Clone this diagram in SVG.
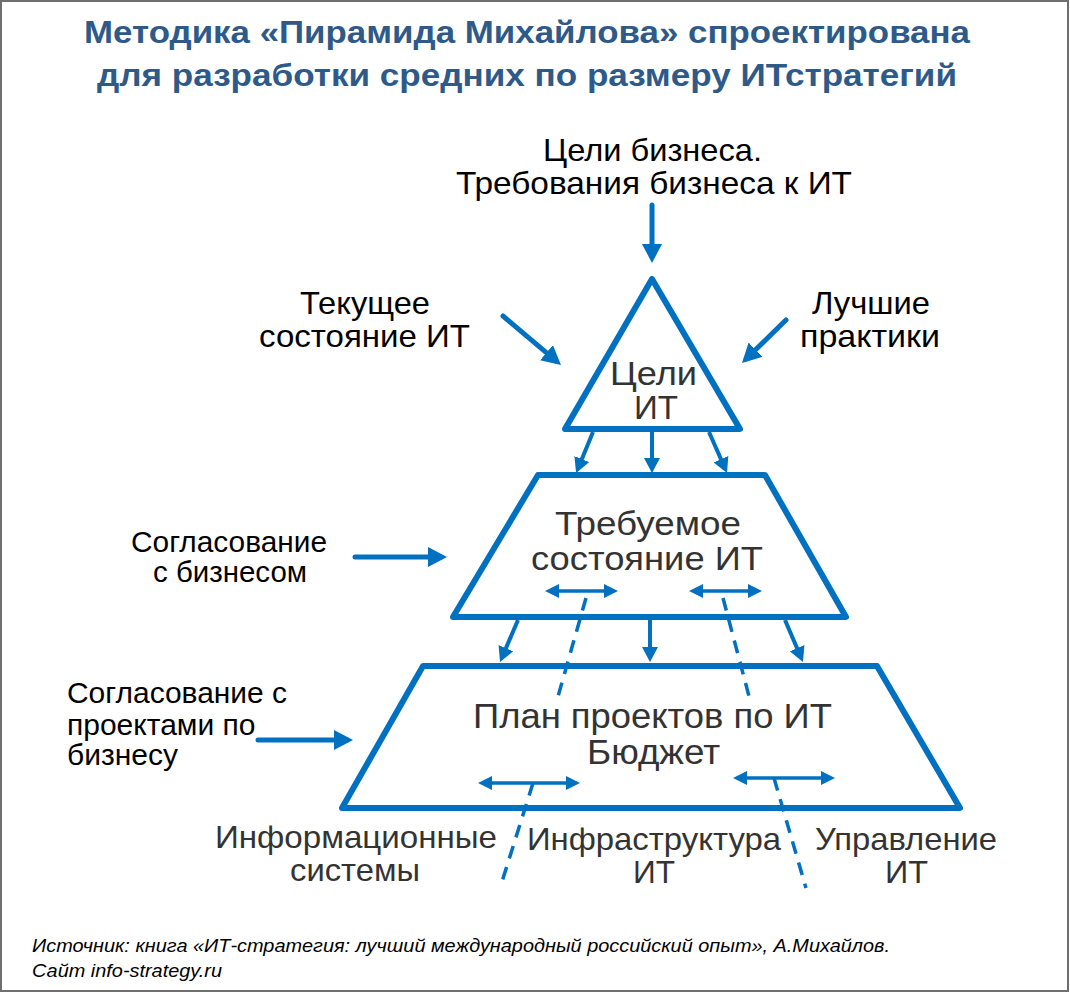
<svg xmlns="http://www.w3.org/2000/svg" width="1070" height="994" viewBox="0 0 1070 994">
<defs>
<style>
.shape{fill:#fff;stroke:#0070C0;stroke-width:6;stroke-linejoin:round}
.arr{stroke:#0070C0;stroke-width:5;fill:none;stroke-linecap:round}
.arm{stroke:#0070C0;stroke-width:4;fill:none}
.ars{stroke:#0070C0;stroke-width:3.5;fill:none}
.dash{stroke:#0070C0;stroke-width:3.5;fill:none;stroke-dasharray:13 9}
.t{font-family:"Liberation Sans",Arial,sans-serif;fill:#000}
.d{font-family:"Liberation Sans",Arial,sans-serif;fill:#333}
.title{font-family:"Liberation Sans",Arial,sans-serif;font-weight:bold;fill:#2E5A8A;font-size:32px}
.foot{font-family:"Liberation Sans",Arial,sans-serif;font-style:italic;fill:#000;font-size:19px}
</style>
<marker id="mb" markerUnits="userSpaceOnUse" markerWidth="19" markerHeight="20" refX="13" refY="10" orient="auto"><path d="M0,0 L19,10 L0,20 Z" fill="#0070C0"/></marker>
<marker id="mm" markerUnits="userSpaceOnUse" markerWidth="15" markerHeight="16" refX="10" refY="8" orient="auto"><path d="M0,0 L15,8 L0,16 Z" fill="#0070C0"/></marker>
<marker id="ms" markerUnits="userSpaceOnUse" markerWidth="14" markerHeight="14" refX="9" refY="7" orient="auto-start-reverse"><path d="M0,0 L14,7 L0,14 Z" fill="#0070C0"/></marker>
</defs>
<rect x="1" y="1" width="1067" height="990" fill="#fff" stroke="#6f6f6f" stroke-width="2"/>
<g id="title">
<text class="title" x="84" y="43" textLength="886" lengthAdjust="spacingAndGlyphs">Методика «Пирамида Михайлова» спроектирована</text>
<text class="title" x="97" y="86" textLength="860" lengthAdjust="spacingAndGlyphs">для разработки средних по размеру ИТстратегий</text>
</g>
<g id="node-goals-it">
<polygon class="shape" points="652,279 740,429 565,429"/>
<text class="d" font-size="33" x="610" y="385" textLength="87" lengthAdjust="spacingAndGlyphs">Цели</text>
<text class="d" font-size="33" x="634" y="419" textLength="44" lengthAdjust="spacingAndGlyphs">ИТ</text>
</g>
<g id="node-required-state">
<polygon class="shape" points="538,475 765,475 846,617 453,617"/>
<text class="d" font-size="34" x="555" y="535" textLength="186" lengthAdjust="spacingAndGlyphs">Требуемое</text>
<text class="d" font-size="34" x="531" y="570" textLength="232" lengthAdjust="spacingAndGlyphs">состояние ИТ</text>
</g>
<g id="node-plan">
<polygon class="shape" points="423,666 877,666 960,808 342,808"/>
<text class="d" font-size="35" x="473" y="728" textLength="359" lengthAdjust="spacingAndGlyphs">План проектов по ИТ</text>
<text class="d" font-size="35" x="587" y="764" textLength="133" lengthAdjust="spacingAndGlyphs">Бюджет</text>
</g>
<g id="label-business-goals">
<text class="t" font-size="32" x="543" y="161" textLength="219" lengthAdjust="spacingAndGlyphs">Цели бизнеса.</text>
<text class="t" font-size="32" x="456" y="194" textLength="396" lengthAdjust="spacingAndGlyphs">Требования бизнеса к ИТ</text>
</g>
<g id="label-current-state">
<text class="t" font-size="32" x="300" y="314" textLength="130" lengthAdjust="spacingAndGlyphs">Текущее</text>
<text class="t" font-size="32" x="259" y="347" textLength="211" lengthAdjust="spacingAndGlyphs">состояние ИТ</text>
</g>
<g id="label-best-practices">
<text class="t" font-size="32" x="812" y="314" textLength="118" lengthAdjust="spacingAndGlyphs">Лучшие</text>
<text class="t" font-size="32" x="800" y="347" textLength="140" lengthAdjust="spacingAndGlyphs">практики</text>
</g>
<g id="label-business-alignment">
<text class="t" font-size="30" x="131" y="552" textLength="196" lengthAdjust="spacingAndGlyphs">Согласование</text>
<text class="t" font-size="30" x="153" y="582" textLength="154" lengthAdjust="spacingAndGlyphs">с бизнесом</text>
</g>
<g id="label-project-alignment">
<text class="t" font-size="30" x="67" y="703" textLength="220" lengthAdjust="spacingAndGlyphs">Согласование с</text>
<text class="t" font-size="30" x="67" y="735">проектами по</text>
<text class="t" font-size="30" x="67" y="765">бизнесу</text>
</g>
<g id="label-is">
<text class="d" font-size="32" x="215" y="848" textLength="282" lengthAdjust="spacingAndGlyphs">Информационные</text>
<text class="d" font-size="32" x="290" y="881" textLength="130" lengthAdjust="spacingAndGlyphs">системы</text>
</g>
<g id="label-infra">
<text class="d" font-size="32" x="527" y="850" textLength="254" lengthAdjust="spacingAndGlyphs">Инфраструктура</text>
<text class="d" font-size="32" x="633" y="883" textLength="42" lengthAdjust="spacingAndGlyphs">ИТ</text>
</g>
<g id="label-mgmt">
<text class="d" font-size="32" x="815" y="850" textLength="182" lengthAdjust="spacingAndGlyphs">Управление</text>
<text class="d" font-size="32" x="885" y="883" textLength="43" lengthAdjust="spacingAndGlyphs">ИТ</text>
</g>
<g id="connectors">
<line class="arr" x1="652" y1="205" x2="652" y2="257" marker-end="url(#mb)"/>
<line class="arr" x1="503" y1="316" x2="556.4" y2="361.1" marker-end="url(#mb)"/>
<line class="arr" x1="786" y1="320" x2="746.3" y2="358.8" marker-end="url(#mb)"/>
<line class="arr" x1="355" y1="557" x2="441" y2="557" marker-end="url(#mb)"/>
<line class="arr" x1="258" y1="740" x2="347" y2="740" marker-end="url(#mb)"/>
<line class="arm" x1="593" y1="432" x2="578" y2="468.4" marker-end="url(#mm)"/>
<line class="arm" x1="652" y1="432" x2="652" y2="468" marker-end="url(#mm)"/>
<line class="arm" x1="709" y1="432" x2="725" y2="468.4" marker-end="url(#mm)"/>
<line class="arm" x1="518" y1="620" x2="502" y2="657.4" marker-end="url(#mm)"/>
<line class="arm" x1="650" y1="620" x2="650" y2="657" marker-end="url(#mm)"/>
<line class="arm" x1="785" y1="620" x2="801" y2="657.4" marker-end="url(#mm)"/>
<line class="ars" x1="550" y1="591" x2="613" y2="591" marker-start="url(#ms)" marker-end="url(#ms)"/>
<line class="ars" x1="694" y1="591" x2="757" y2="591" marker-start="url(#ms)" marker-end="url(#ms)"/>
<line class="ars" x1="483" y1="783" x2="575" y2="783" marker-start="url(#ms)" marker-end="url(#ms)"/>
<line class="ars" x1="738" y1="778" x2="830" y2="778" marker-start="url(#ms)" marker-end="url(#ms)"/>
<line class="dash" x1="586" y1="598" x2="557" y2="700"/>
<line class="dash" x1="723" y1="598" x2="750" y2="700"/>
<line class="dash" x1="533" y1="783" x2="500" y2="888"/>
<line class="dash" x1="774" y1="778" x2="806" y2="888"/>
</g>
<g id="footer">
<text class="foot" x="32" y="952" textLength="858" lengthAdjust="spacingAndGlyphs">Источник: книга «ИТ-стратегия: лучший международный российский опыт», А.Михайлов.</text>
<text class="foot" x="32" y="977" textLength="190" lengthAdjust="spacingAndGlyphs">Сайт info-strategy.ru</text>
</g>
</svg>
